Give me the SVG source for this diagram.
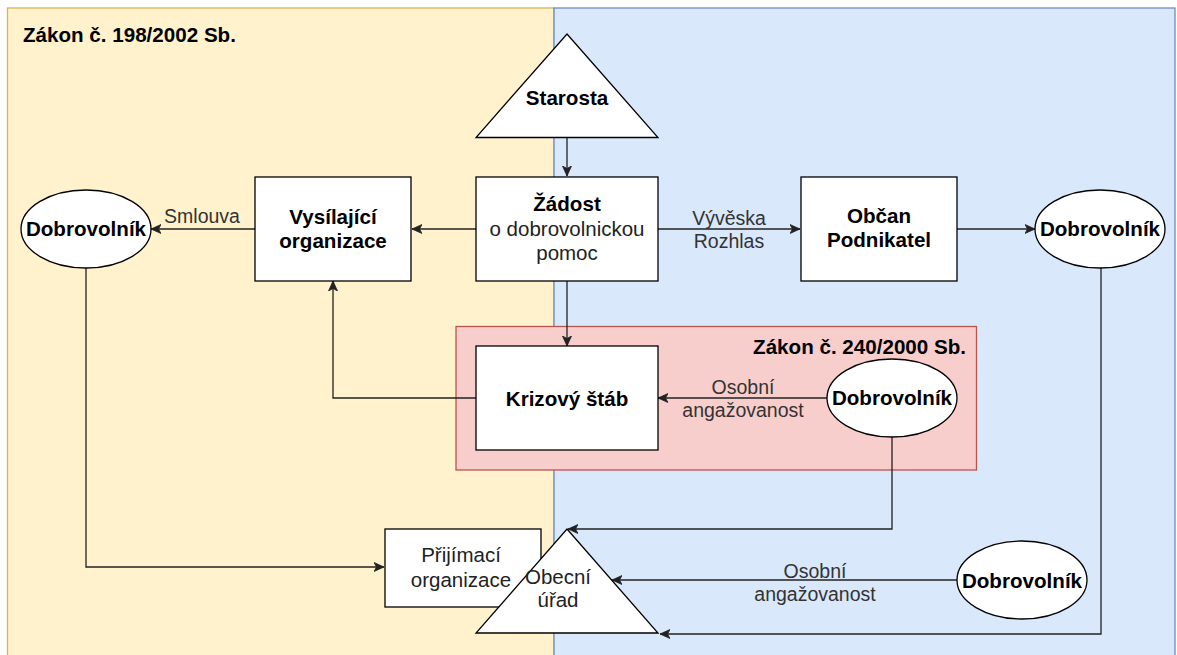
<svg xmlns="http://www.w3.org/2000/svg" width="1177" height="655" viewBox="0 0 1177 655">
<style>
.bt{font-family:"Liberation Sans",Arial,sans-serif;font-weight:bold;font-size:20.6px;fill:#000;text-anchor:middle}
.nt{font-family:"Liberation Sans",Arial,sans-serif;font-size:20.5px;fill:#222;text-anchor:middle}
.lb{font-family:"Liberation Sans",Arial,sans-serif;font-size:19.5px;fill:#333;text-anchor:middle}
.node{fill:#fff;stroke:#000;stroke-width:1.3}
.edge{fill:none;stroke:#222;stroke-width:1.3;marker-end:url(#arr)}
</style>
<defs>
<marker id="arr" markerUnits="userSpaceOnUse" markerWidth="12" markerHeight="10" refX="10" refY="5" orient="auto">
<path d="M0,0.5 L10,5 L0,9.5 L2.5,5 z" fill="#222" stroke="#222" stroke-width="0.8"/>
</marker>
</defs>
<g id="zone-198">
<rect x="7.5" y="8" width="546.5" height="660" fill="#fff2cc" stroke="#d6b656" stroke-width="1.3"/>
<text x="23" y="42" class="bt" style="text-anchor:start">Zákon č. 198/2002 Sb.</text>
</g>
<g id="zone-blue">
<rect x="554" y="8" width="621" height="660" fill="#dae8fc" stroke="#6c8ebf" stroke-width="1.3"/>
</g>
<g id="zone-240">
<rect x="456" y="326.5" width="520.5" height="143.5" fill="#f8cecc" stroke="#b85450" stroke-width="1.3"/>
<text x="966" y="354" class="bt" style="text-anchor:end">Zákon č. 240/2000 Sb.</text>
</g>
<g id="connectors">
<path class="edge" d="M567,138 L567,176"/>
<path class="edge" d="M476,229 L412,229"/>
<path class="edge" d="M255,229 L151,229"/>
<path class="edge" d="M658,229 L800,229"/>
<path class="edge" d="M957,229 L1035,229"/>
<path class="edge" d="M567,281 L567,346"/>
<path class="edge" d="M476,398 L333,398 L333,281"/>
<path class="edge" d="M827,398 L658,398"/>
<path class="edge" d="M86,268 L86,567 L384,567"/>
<path class="edge" d="M892,437 L892,529 L568,529"/>
<path class="edge" d="M957,580 L612,580"/>
<path class="edge" d="M1101,268 L1101,634 L660,634"/>
<text x="202" y="223" class="lb">Smlouva</text>
<text x="729" y="225" class="lb">Vývěska</text>
<text x="729" y="248" class="lb">Rozhlas</text>
<text x="743" y="394" class="lb">Osobní</text>
<text x="743" y="417" class="lb">angažovanost</text>
<text x="815" y="578" class="lb">Osobní</text>
<text x="815" y="601" class="lb">angažovanost</text>
</g>
<g id="starosta">
<polygon class="node" points="567,34 658,137.5 476,137.5"/>
<text x="567" y="105" class="bt">Starosta</text>
</g>
<g id="zadost">
<rect class="node" x="476" y="177" width="182" height="104"/>
<text x="567" y="211" class="bt">Žádost</text>
<text x="567" y="236" class="nt">o dobrovolnickou</text>
<text x="567" y="260" class="nt">pomoc</text>
</g>
<g id="vysilajici">
<rect class="node" x="255" y="177" width="156" height="104"/>
<text x="333" y="224" class="bt">Vysílající</text>
<text x="333" y="248" class="bt">organizace</text>
</g>
<g id="dobrovolnik-left">
<ellipse class="node" cx="86" cy="229" rx="65" ry="39"/>
<text x="86" y="236" class="bt">Dobrovolník</text>
</g>
<g id="obcan">
<rect class="node" x="801" y="177" width="156" height="104"/>
<text x="879" y="223" class="bt">Občan</text>
<text x="879" y="247" class="bt">Podnikatel</text>
</g>
<g id="dobrovolnik-right">
<ellipse class="node" cx="1100" cy="229" rx="65" ry="39"/>
<text x="1100" y="236" class="bt">Dobrovolník</text>
</g>
<g id="krizovy-stab">
<rect class="node" x="476" y="346" width="182" height="104"/>
<text x="567" y="406" class="bt">Krizový štáb</text>
</g>
<g id="dobrovolnik-pink">
<ellipse class="node" cx="892" cy="398" rx="65" ry="39"/>
<text x="892" y="405" class="bt">Dobrovolník</text>
</g>
<g id="prijimaci">
<rect class="node" x="385" y="529" width="156" height="78"/>
<text x="461" y="562" class="nt">Přijímací</text>
<text x="461" y="587" class="nt">organizace</text>
</g>
<g id="obecni-urad">
<polygon class="node" points="567,529 658,633 476,633"/>
<text x="558" y="584" class="nt">Obecní</text>
<text x="558" y="607" class="nt">úřad</text>
</g>
<g id="dobrovolnik-bottom">
<ellipse class="node" cx="1022" cy="580" rx="65" ry="39"/>
<text x="1022" y="588" class="bt">Dobrovolník</text>
</g>
</svg>
